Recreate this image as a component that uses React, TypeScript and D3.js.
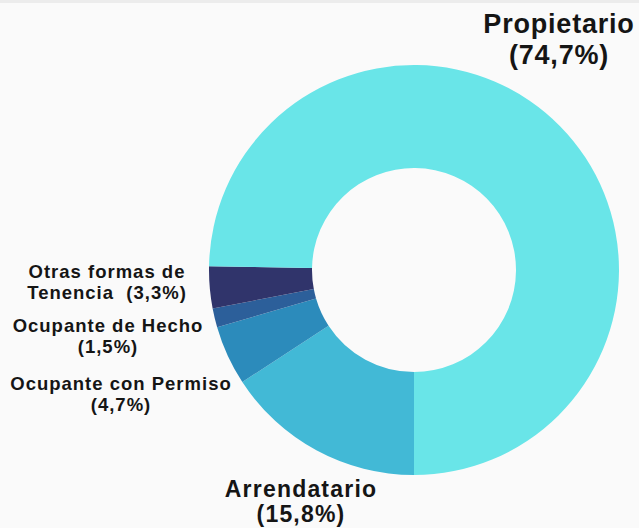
import React, { useEffect, useRef } from 'react';
import * as d3 from 'd3';

// data
const categories = [
  'Arrendatario',
  'Ocupante con Permiso',
  'Ocupante de Hecho',
  'Otras formas de Tenencia',
  'Propietario'
];
const shares = [15.8, 4.7, 1.5, 3.3, 74.7];
const colors = ['#42b9d6', '#2c8bbb', '#2c5f9a', '#30346b', '#69e5e8'];

// label lines, one entry per category
const labelLines = [
  ['Arrendatario', '(15,8%)'],
  ['Ocupante con Permiso', '(4,7%)'],
  ['Ocupante de Hecho', '(1,5%)'],
  ['Otras formas de', 'Tenencia  (3,3%)'],
  ['Propietario', '(74,7%)']
];

interface Slice {
  name: string;
  value: number;
  color: string;
  lines: string[];
}

const App: React.FC = () => {
  const svgRef = useRef<SVGSVGElement>(null);
  const width = 639;
  const height = 528;

  useEffect(() => {
    if (!svgRef.current) return;
    const svg = d3.select(svgRef.current);
    svg.selectAll('*').remove();

    const data: Slice[] = categories.map((c, i) => ({
      name: c,
      value: shares[i],
      color: colors[i],
      lines: labelLines[i]
    }));

    // background
    svg.append('rect').attr('width', width).attr('height', height).attr('fill', '#fafafa');
    svg.append('rect').attr('width', width).attr('height', 3).attr('fill', '#ececec');

    const cx = 414;
    const cy = 270;
    const outerR = 205;
    const innerR = 102;

    const pie = d3.pie<Slice>()
      .value(d => d.value)
      .sort(null)
      .startAngle(Math.PI)
      .endAngle(3 * Math.PI);

    const arc = d3.arc<d3.PieArcDatum<Slice>>()
      .innerRadius(innerR)
      .outerRadius(outerR);

    const g = svg.append('g').attr('transform', `translate(${cx},${cy})`);
    g.selectAll('path')
      .data(pie(data))
      .enter().append('path')
      .attr('d', arc)
      .attr('fill', d => d.data.color);

    // label placement: anchor x, first baseline y, line step, font size, letter spacing
    const labelPos: [number, number, number, number, number][] = [
      [301, 496.5, 25.8, 23, 1.2],
      [121, 390, 21, 18.5, 1],
      [108, 332, 21, 18.5, 1],
      [107, 278, 21, 18.5, 1],
      [559, 33, 30.5, 27, 0.8]
    ];

    const labels = svg.selectAll('.lbl')
      .data(data)
      .enter().append('text')
      .attr('class', 'lbl')
      .attr('text-anchor', 'middle')
      .attr('font-family', '"Liberation Sans", Arial, sans-serif')
      .attr('font-weight', 700)
      .attr('fill', '#151515')
      .attr('font-size', (_, i) => labelPos[i][3])
      .attr('letter-spacing', (_, i) => labelPos[i][4]);

    labels.each(function (d, i) {
      const [x, y, lh] = labelPos[i];
      const t = d3.select(this);
      d.lines.forEach((line, j) => {
        t.append('tspan')
          .attr('x', x)
          .attr('y', y + j * lh)
          .style('white-space', 'pre')
          .text(line);
      });
    });
  }, []);

  return (
    <svg
      ref={svgRef}
      width={width}
      height={height}
      style={{ position: 'absolute', left: 0, top: 0, display: 'block' }}
    />
  );
};

export default App;
